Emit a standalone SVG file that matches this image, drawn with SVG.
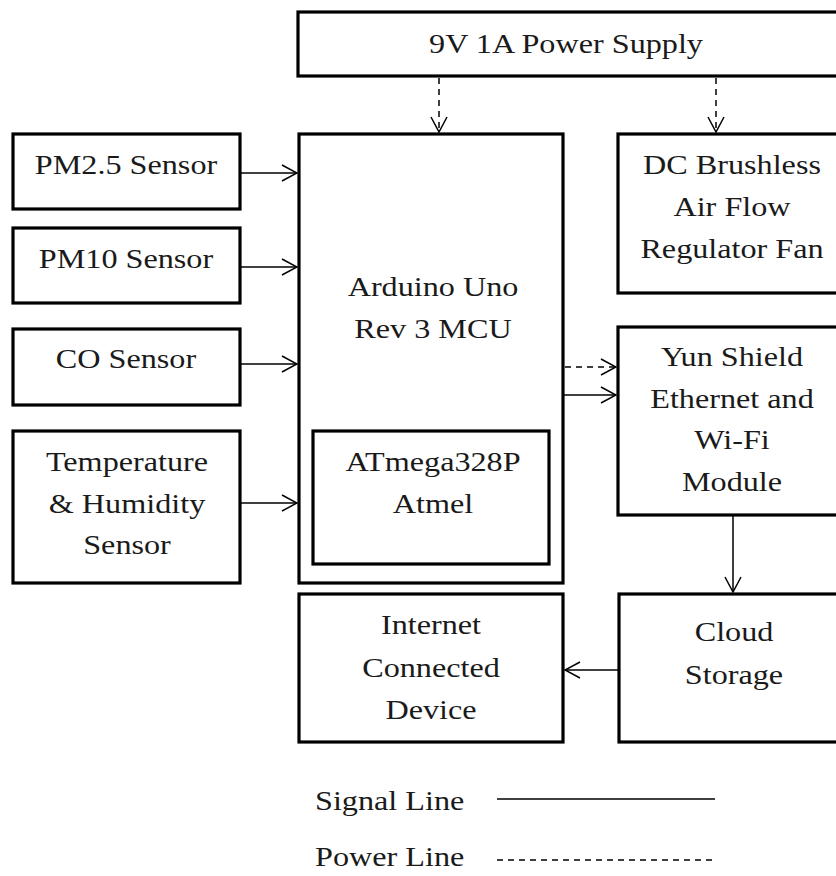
<svg xmlns="http://www.w3.org/2000/svg" width="836" height="876" viewBox="0 0 836 876">
<style>
.box{fill:#fff;stroke:#000;stroke-width:3.2}
.t{font-family:"Liberation Serif","Times New Roman",serif;font-size:28px;fill:#1a1a1a;text-anchor:middle}
.tl{font-family:"Liberation Serif","Times New Roman",serif;font-size:28px;fill:#1a1a1a}
.sig{fill:none;stroke:#000;stroke-width:1.5}
.pow{fill:none;stroke:#000;stroke-width:1.5;stroke-dasharray:6 5}
</style>
<defs>
<marker id="ah" viewBox="0 0 18 18" refX="17" refY="9" markerWidth="18" markerHeight="18" markerUnits="userSpaceOnUse" orient="auto">
<path d="M2,1 L17,9 L2,17" fill="none" stroke="#000" stroke-width="1.5" stroke-dasharray="none"/>
</marker>
</defs>
<rect width="836" height="876" fill="#fff"/>

<g id="power">
<rect class="box" x="298" y="12" width="560" height="64"/>
<text class="t" transform="translate(566,53) scale(1.15,1)">9V 1A Power Supply</text>
</g>

<g id="pm25">
<rect class="box" x="13" y="134" width="227" height="75"/>
<text class="t" transform="translate(126,174) scale(1.15,1)">PM2.5 Sensor</text>
</g>
<g id="pm10">
<rect class="box" x="13" y="228" width="227" height="75"/>
<text class="t" transform="translate(126,268) scale(1.15,1)">PM10 Sensor</text>
</g>
<g id="co">
<rect class="box" x="13" y="329" width="227" height="76"/>
<text class="t" transform="translate(126,368) scale(1.15,1)">CO Sensor</text>
</g>
<g id="temp">
<rect class="box" x="13" y="431" width="227" height="152"/>
<text class="t" transform="translate(127,471) scale(1.15,1)"><tspan x="0" y="0">Temperature</tspan><tspan x="0" y="42">&amp; Humidity</tspan><tspan x="0" y="83">Sensor</tspan></text>
</g>

<g id="arduino">
<rect class="box" x="299" y="134" width="264" height="449"/>
<text class="t" transform="translate(433,296) scale(1.15,1)"><tspan x="0" y="0">Arduino Uno</tspan><tspan x="0" y="42">Rev 3 MCU</tspan></text>
</g>
<g id="atmega">
<rect class="box" x="313" y="431" width="236" height="133"/>
<text class="t" transform="translate(433,471) scale(1.15,1)"><tspan x="0" y="0">ATmega328P</tspan><tspan x="0" y="42">Atmel</tspan></text>
</g>

<g id="fan">
<rect class="box" x="618" y="134" width="240" height="159"/>
<text class="t" transform="translate(732,174) scale(1.15,1)"><tspan x="0" y="0">DC Brushless</tspan><tspan x="0" y="42">Air Flow</tspan><tspan x="0" y="84">Regulator Fan</tspan></text>
</g>
<g id="yun">
<rect class="box" x="618" y="327" width="240" height="188"/>
<text class="t" transform="translate(732,366) scale(1.15,1)"><tspan x="0" y="0">Yun Shield</tspan><tspan x="0" y="42">Ethernet and</tspan><tspan x="0" y="83">Wi-Fi</tspan><tspan x="0" y="125">Module</tspan></text>
</g>
<g id="cloud">
<rect class="box" x="619" y="594" width="240" height="148"/>
<text class="t" transform="translate(734,641) scale(1.15,1)"><tspan x="0" y="0">Cloud</tspan><tspan x="0" y="43">Storage</tspan></text>
</g>
<g id="device">
<rect class="box" x="299" y="594" width="264" height="148"/>
<text class="t" transform="translate(431,634) scale(1.15,1)"><tspan x="0" y="0">Internet</tspan><tspan x="0" y="43">Connected</tspan><tspan x="0" y="85">Device</tspan></text>
</g>

<g id="connectors">
<line class="pow" x1="439" y1="78" x2="439" y2="132" marker-end="url(#ah)"/>
<line class="pow" x1="716" y1="78" x2="716" y2="132" marker-end="url(#ah)"/>
<line class="sig" x1="240" y1="173" x2="297" y2="173" marker-end="url(#ah)"/>
<line class="sig" x1="240" y1="267" x2="297" y2="267" marker-end="url(#ah)"/>
<line class="sig" x1="240" y1="364" x2="297" y2="364" marker-end="url(#ah)"/>
<line class="sig" x1="240" y1="503" x2="297" y2="503" marker-end="url(#ah)"/>
<line class="pow" x1="565" y1="367" x2="616" y2="367" marker-end="url(#ah)"/>
<line class="sig" x1="563" y1="395" x2="616" y2="395" marker-end="url(#ah)"/>
<line class="sig" x1="733" y1="516" x2="733" y2="592" marker-end="url(#ah)"/>
<line class="sig" x1="619" y1="670" x2="565" y2="670" marker-end="url(#ah)"/>
</g>

<g id="legend">
<text class="tl" transform="translate(315,810) scale(1.15,1)">Signal Line</text>
<line class="sig" x1="497" y1="799" x2="715" y2="799"/>
<text class="tl" transform="translate(315,866) scale(1.15,1)">Power Line</text>
<line class="pow" x1="497" y1="860" x2="715" y2="860"/>
</g>
</svg>
